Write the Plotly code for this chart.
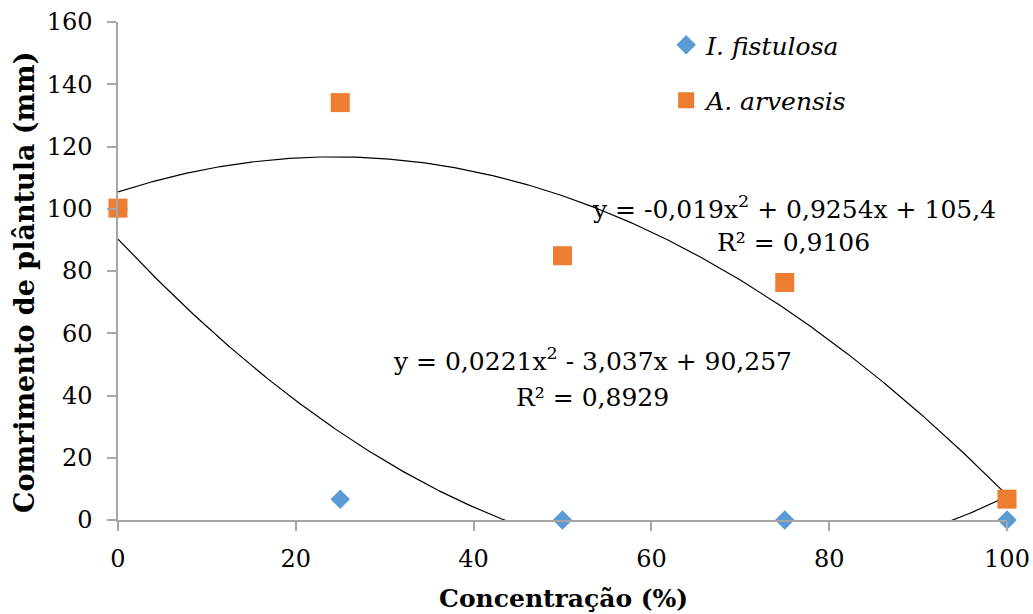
import numpy as np
import plotly.graph_objects as go

concentracao = [0, 25, 50, 75, 100]
i_fistulosa = [100, 6.7, 0, 0, 0]
a_arvensis = [100.2, 134.1, 84.9, 76.3, 6.7]

# polynomial trendline coefficients (a, b, c) as shown on the chart
coef_fistulosa = [0.0221, -3.037, 90.257]
coef_arvensis = [-0.019, 0.9254, 105.4]

eq_fistulosa = ["y = 0,0221x<sup>2</sup> - 3,037x + 90,257", "R² = 0,8929"]
eq_arvensis = ["y = -0,019x<sup>2</sup> + 0,9254x + 105,4", "R² = 0,9106"]

x_title = "<b>Concentração (%)</b>"
y_title = "<b>Comrimento de plântula (mm)</b>"

x_ticks = [0, 20, 40, 60, 80, 100]
y_ticks = [0, 20, 40, 60, 80, 100, 120, 140, 160]

FONT = "DejaVu Serif"
AX = "#a6a6a6"
xs = np.linspace(0, 100, 401)

fig = go.Figure()
for coef in (coef_fistulosa, coef_arvensis):
    a, b, c = coef
    fig.add_trace(go.Scatter(x=xs, y=a * xs**2 + b * xs + c, mode="lines",
                             line=dict(color="black", width=1.2), showlegend=False, hoverinfo="skip"))
fig.add_trace(go.Scatter(x=concentracao, y=i_fistulosa, mode="markers", name="<i>I. fistulosa</i>",
                         marker=dict(symbol="diamond", size=15, color="#5b9bd5"), cliponaxis=False, legendgroup="a"))
fig.add_trace(go.Scatter(x=concentracao, y=a_arvensis, mode="markers", name="<i>A. arvensis</i>",
                         marker=dict(symbol="square", size=19, color="#ed7d31"), cliponaxis=False, legendgroup="b"))

afont = dict(family=FONT, size=25, color="black")
fig.add_annotation(x=53.4, y=51.5, showarrow=False, text=eq_fistulosa[0], font=afont)
fig.add_annotation(x=53.4, y=39.5, showarrow=False, text=eq_fistulosa[1], font=afont)
fig.add_annotation(x=76, y=100.5, showarrow=False, text=eq_arvensis[0], font=afont)
fig.add_annotation(x=76, y=89, showarrow=False, text=eq_arvensis[1], font=afont)

# axis titles
fig.add_annotation(xref="paper", yref="paper", x=(563 - 118) / 889, y=(520 - 598) / 498,
                   xanchor="center", yanchor="middle",
                   showarrow=False, text=x_title, font=dict(family=FONT, size=25, color="black"))
fig.add_annotation(xref="paper", yref="paper", x=(24 - 118) / 889, y=(520 - 283) / 498,
                   xanchor="center", yanchor="middle",
                   showarrow=False, text=y_title, textangle=-90,
                   font=dict(family=FONT, size=27, color="black"))

fig.update_layout(
    width=1033, height=614, margin=dict(l=118, r=26, t=22, b=94),
    paper_bgcolor="white", plot_bgcolor="white",
    font=dict(family=FONT, size=24, color="black"),
    legend=dict(x=0.6166, y=1.0, xanchor="left", yanchor="top", font=dict(family=FONT, size=25),
                tracegroupgap=20, traceorder="grouped", bgcolor="rgba(0,0,0,0)"),
    xaxis=dict(range=[0, 100], tickvals=x_ticks, showgrid=False, zeroline=False, showline=True, linecolor=AX,
               linewidth=1.5, automargin=False, ticks="outside", ticklen=9, tickcolor=AX, tickwidth=1.5,
               tickfont=dict(family=FONT, size=24), ticklabelstandoff=7),
    yaxis=dict(range=[0, 160], tickvals=y_ticks, showgrid=False, zeroline=False, showline=True, linecolor=AX,
               linewidth=1.5, automargin=False, ticks="outside", ticklen=9, tickcolor=AX, tickwidth=1.5,
               tickfont=dict(family=FONT, size=24), ticklabelstandoff=10),
)
fig.write_html("out.html")
